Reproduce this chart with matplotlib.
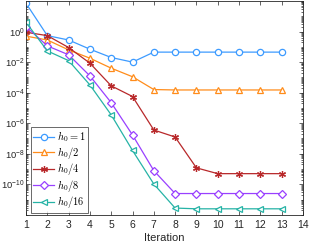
import numpy as np
import matplotlib
matplotlib.use("Agg")
import matplotlib.pyplot as plt
from matplotlib.ticker import FixedLocator, FixedFormatter, LogLocator, NullFormatter

plt.rcParams['font.family'] = ['Liberation Sans', 'DejaVu Sans']
plt.rcParams['mathtext.fontset'] = 'cm'

iterations = list(range(1, 14))
err_h0 = [70, 0.54, 0.28, 0.07, 0.02, 0.01, 0.045, 0.045, 0.045, 0.045, 0.045, 0.045, 0.045]
err_h0_2 = [0.5, 0.28, 0.063, 0.018, 0.004, 1.1e-3, 1.6e-4, 1.5e-4, 1.5e-4, 1.5e-4, 1.5e-4, 1.5e-4, 1.5e-4]
err_h0_4 = [0.9, 0.54, 0.09, 8.5e-3, 2.8e-4, 5.6e-5, 3.6e-7, 1.25e-7, 1.2e-9, 5e-10, 5e-10, 5e-10, 5e-10]
err_h0_8 = [2.1, 0.115, 0.03, 1.25e-3, 2.2e-5, 1.7e-7, 7.9e-10, 2.5e-11, 2.5e-11, 2.5e-11, 2.5e-11, 2.5e-11, 2.5e-11]
err_h0_16 = [4.0, 0.054, 0.0125, 3.2e-4, 3.5e-6, 1.65e-8, 1.05e-10, 2.8e-12, 2.5e-12, 2.5e-12, 2.5e-12, 2.5e-12, 2.5e-12]
labels = [r'$h_0=1$', r'$h_0/2$', r'$h_0/4$', r'$h_0/8$', r'$h_0/16$']
xticks = list(range(1, 15))
yticks = [1e-10, 1e-8, 1e-6, 1e-4, 1e-2, 1e0]
ytick_labels = [r'$\mathregular{10^{-10}}$', r'$\mathregular{10^{-8}}$', r'$\mathregular{10^{-6}}$',
                r'$\mathregular{10^{-4}}$', r'$\mathregular{10^{-2}}$', r'$\mathregular{10^{0}}$']

colors = ['#3d9bff', '#ff8c1a', '#b8282a', '#9940ff', '#26b3a6']
markers = ['o', '^', (6, 2, 0), 'D', '<']
msizes = [4.5, 4.5, 5, 4, 4.5]
series = [err_h0, err_h0_2, err_h0_4, err_h0_8, err_h0_16]

fig = plt.figure(figsize=(3.10, 2.47), dpi=100)
ax = fig.add_axes([0.084, 0.130, 0.893, 0.866])

for s, c, m, ms, lab in zip(series, colors, markers, msizes, labels):
    ax.semilogy(iterations, s, color=c, marker=m, markersize=ms, markerfacecolor='white' if m != (6, 2, 0) else c,
                markeredgecolor=c, markeredgewidth=0.9, linewidth=0.9, label=lab)

ax.set_xlim(1, 14)
ax.set_ylim(1e-12, 1e2)
ax.set_xticks(xticks)
ax.yaxis.set_major_locator(FixedLocator(yticks))
ax.yaxis.set_major_formatter(FixedFormatter(ytick_labels))
ax.yaxis.set_minor_locator(LogLocator(base=10, subs=np.arange(1, 10), numticks=50))
ax.yaxis.set_minor_formatter(NullFormatter())
ax.tick_params(which='both', direction='in', top=True, right=True, colors='#262626', width=0.5)
ax.tick_params(axis='x', labelsize=7.5, pad=4)
ax.tick_params(axis='y', labelsize=6.8, pad=1)
ax.tick_params(which='major', length=3)
ax.tick_params(which='minor', length=1.5)
for sp in ax.spines.values():
    sp.set_color('#262626')
    sp.set_linewidth(0.6)
ax.set_xlabel('Iteration', fontsize=8, color='#262626', labelpad=2)

leg = ax.legend(loc='lower left', bbox_to_anchor=(0.01, 0.0), fontsize=7.5, frameon=True, fancybox=False,
                edgecolor='#262626', handlelength=2.0, handletextpad=0.25, borderpad=0.25, labelspacing=0.05,
                borderaxespad=0.2)
leg.get_frame().set_linewidth(0.6)

fig.savefig('out.png', dpi=100)
